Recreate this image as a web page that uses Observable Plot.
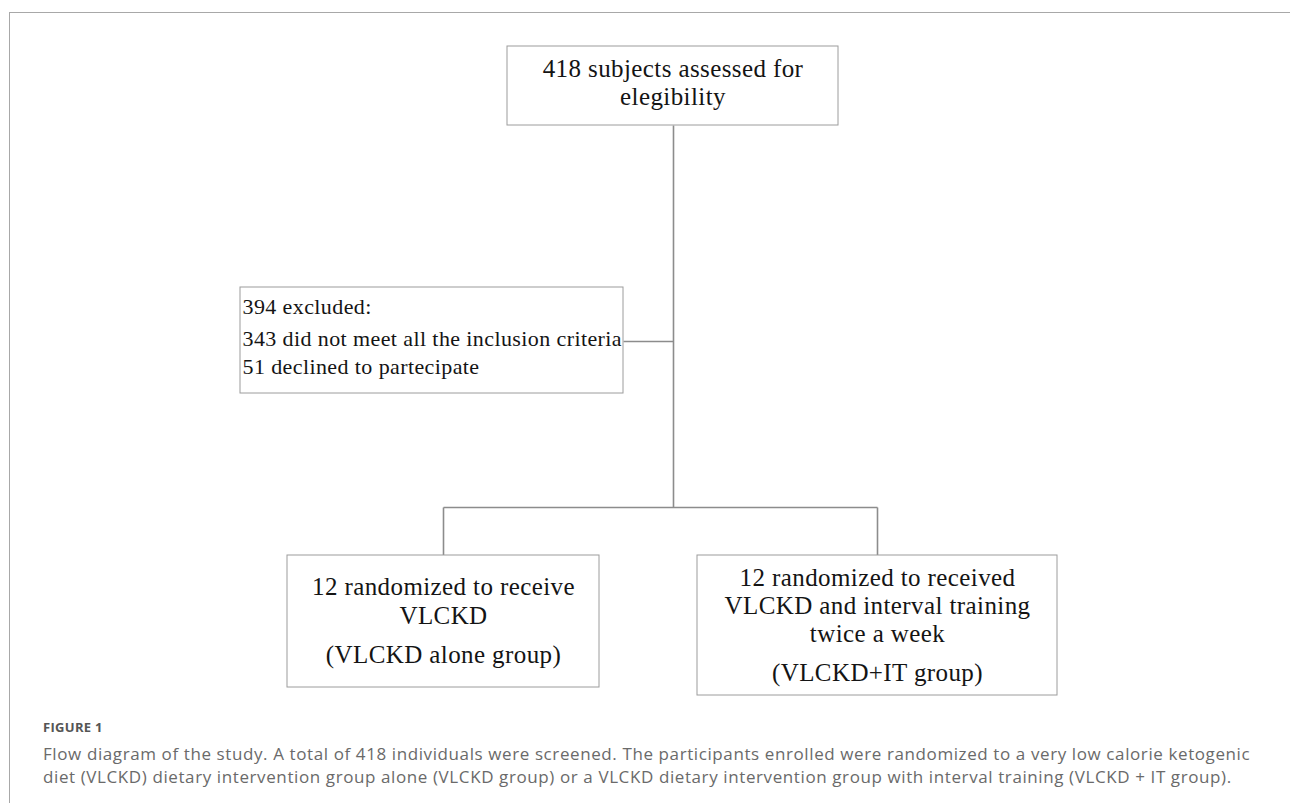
<!DOCTYPE html>
<html>
<head>
<meta charset="utf-8">
<script src="https://cdn.jsdelivr.net/npm/d3@7"></script>
<script src="https://cdn.jsdelivr.net/npm/@observablehq/plot@0.6"></script>
<style>
  html, body { margin: 0; padding: 0; background: #fff; }
  body { width: 1290px; height: 803px; position: relative; overflow: hidden; }
  #frame { position: absolute; left: 9px; top: 12px; right: -2px; bottom: -2px;
           border-left: 1px solid #a8a8a8; border-top: 1px solid #a8a8a8; }
  #chart { position: absolute; left: 0; top: 0; }
  #figlabel { position: absolute; left: 43px; top: 719px; font-family: "Open Sans", sans-serif;
              font-weight: 700; font-size: 13px; color: #555; line-height: 16px; letter-spacing: 0.3px; }
  #caption { position: absolute; left: 43px; top: 742px; font-family: "Open Sans", sans-serif;
             font-size: 17px; color: #6a6a6a; line-height: 23px; white-space: nowrap; letter-spacing: 0.6px; }
</style>
</head>
<body>
<div id="frame"></div>
<div id="chart"></div>
<div id="figlabel">FIGURE 1</div>
<div id="caption"></div>
<script>
// ---- Data (text content of the flow diagram) ----
const boxNames = ["assessed", "excluded", "vlckdAlone", "vlckdIT"];
const boxLines = [
  ["418 subjects assessed for", "elegibility"],
  ["394 excluded:", "343 did not meet all the inclusion criteria", "51 declined to partecipate"],
  ["12 randomized to receive", "VLCKD", "(VLCKD alone group)"],
  ["12 randomized to received", "VLCKD and interval training", "twice a week", "(VLCKD+IT group)"]
];
const captionLines = [
  "Flow diagram of the study. A total of 418 individuals were screened. The participants enrolled were randomized to a very low calorie ketogenic",
  "diet (VLCKD) dietary intervention group alone (VLCKD group) or a VLCKD dietary intervention group with interval training (VLCKD + IT group)."
];

// ---- Layout (diagram coordinates) ----
const boxLeft   = [507, 240, 287, 697];
const boxRight  = [838, 623, 599, 1057];
const boxTop    = [46, 287, 555, 555];
const boxBottom = [125, 393, 687, 695];
const boxAlign  = ["middle", "start", "middle", "middle"];
const boxFont   = [25, 22, 25, 25];
const lineCenters = [
  [68, 96],
  [306, 338, 366],
  [586, 615, 654],
  [577, 605, 633, 672]
];
const connectors = [
  {x1: 673, y1: 125, x2: 673, y2: 507},
  {x1: 623, y1: 341, x2: 673, y2: 341},
  {x1: 443, y1: 507, x2: 877, y2: 507},
  {x1: 443, y1: 507, x2: 443, y2: 555},
  {x1: 877, y1: 507, x2: 877, y2: 555}
];

const boxes = boxNames.map((name, i) => ({
  name, x1: boxLeft[i], x2: boxRight[i], y1: boxTop[i], y2: boxBottom[i]
}));
const texts = [];
boxNames.forEach((name, i) => {
  boxLines[i].forEach((t, j) => {
    texts.push({
      name, text: t, size: boxFont[i], anchor: boxAlign[i],
      x: boxAlign[i] === "start" ? boxLeft[i] + 2 : (boxLeft[i] + boxRight[i]) / 2,
      y: lineCenters[i][j]
    });
  });
});

const W = 1290, H = 700;
const serif = "'Liberation Serif', 'Times New Roman', serif";

const chart = Plot.plot({
  width: W, height: H,
  margin: 0,
  x: {domain: [0, W], axis: null},
  y: {domain: [0, H], reverse: true, axis: null},
  style: {background: "transparent", overflow: "visible", letterSpacing: "0.4px"},
  marks: [
    Plot.link(connectors, {x1: "x1", y1: "y1", x2: "x2", y2: "y2", stroke: "#8c8c8c", strokeWidth: 1.6}),
    Plot.rect(boxes, {x1: "x1", x2: "x2", y1: "y1", y2: "y2", fill: "white", stroke: "#9c9c9c", strokeWidth: 1}),
    Plot.text(texts.filter(d => d.anchor === "middle"), {
      x: "x", y: "y", text: "text", fontSize: 25, fontFamily: serif, fill: "#141414", textAnchor: "middle"
    }),
    Plot.text(texts.filter(d => d.anchor === "start"), {
      x: "x", y: "y", text: "text", fontSize: 22, fontFamily: serif, fill: "#141414", textAnchor: "start"
    })
  ]
});
document.getElementById("chart").appendChild(chart);
document.getElementById("caption").innerHTML = captionLines.join("<br>");
</script>
</body>
</html>
